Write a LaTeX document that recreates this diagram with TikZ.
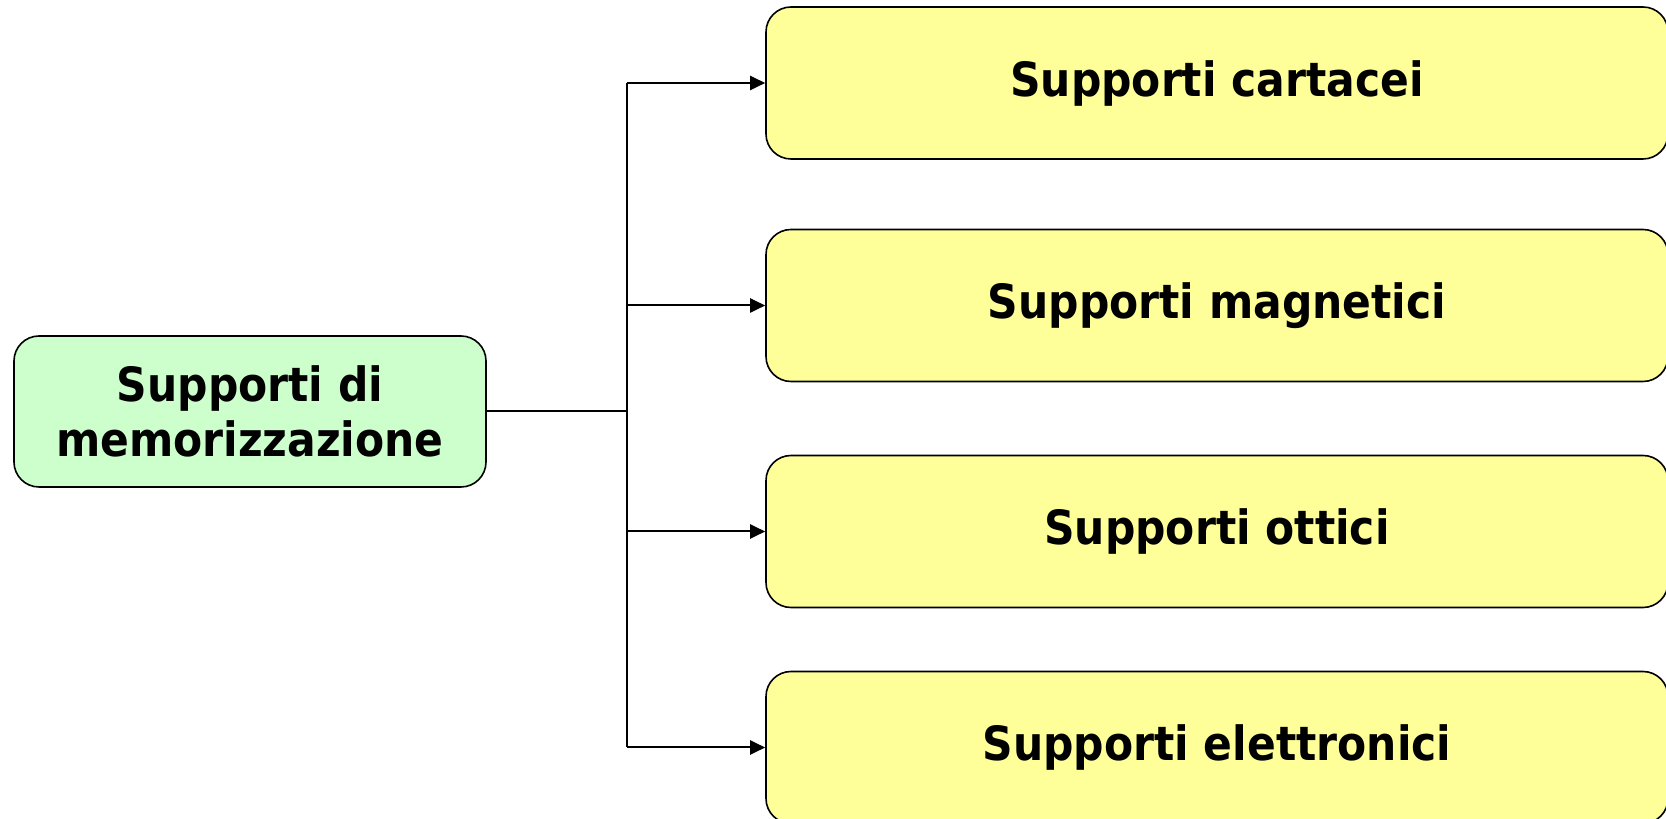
\documentclass[tikz,border=0pt]{standalone}
\usepackage{fontspec}
\setmainfont{DejaVu Sans Condensed}
\usetikzlibrary{arrows.meta}
\definecolor{rootgreen}{HTML}{CCFFCC}
\definecolor{boxyellow}{HTML}{FFFF99}

\begin{document}
\begin{tikzpicture}[x=0.5pt,y=0.5pt,
		rootbox/.style={draw=black,line width=0.8pt,fill=rootgreen,rounded corners=12.5pt,
			minimum width=236pt,minimum height=75.5pt,align=center,
			font=\fontsize{23.6}{27.5}\selectfont\bfseries},
		kindbox/.style={draw=black,line width=0.8pt,fill=boxyellow,rounded corners=12.5pt,
			minimum width=451pt,minimum height=76pt,
			font=\fontsize{23.6}{27.5}\selectfont\bfseries},
		link/.style={line width=1pt,-{Triangle[length=7.5pt,width=7pt]}}]
		\useasboundingbox (0,0) rectangle (1666,819);
		\node[rootbox] (root) at (250,407.5) {Supporti di\\memorizzazione};
		\node[kindbox] (paper) at (1217,736) {Supporti cartacei};
		\node[kindbox] (magnetic) at (1217,513.5) {Supporti magnetici};
		\node[kindbox] (optical) at (1217,287.5) {Supporti ottici};
		\node[kindbox] (electronic) at (1217,71.5) {Supporti elettronici};
		\coordinate (bus) at (627,407.5);
		\draw[line width=1pt] (root) -- (bus);
		\draw[line width=1pt] (bus |- paper.west) -- (bus |- electronic.west);
		\foreach \kind in {paper,magnetic,optical,electronic}
			\draw[link] (bus |- \kind.west) -- (\kind.west);
	\end{tikzpicture}
\end{document}
